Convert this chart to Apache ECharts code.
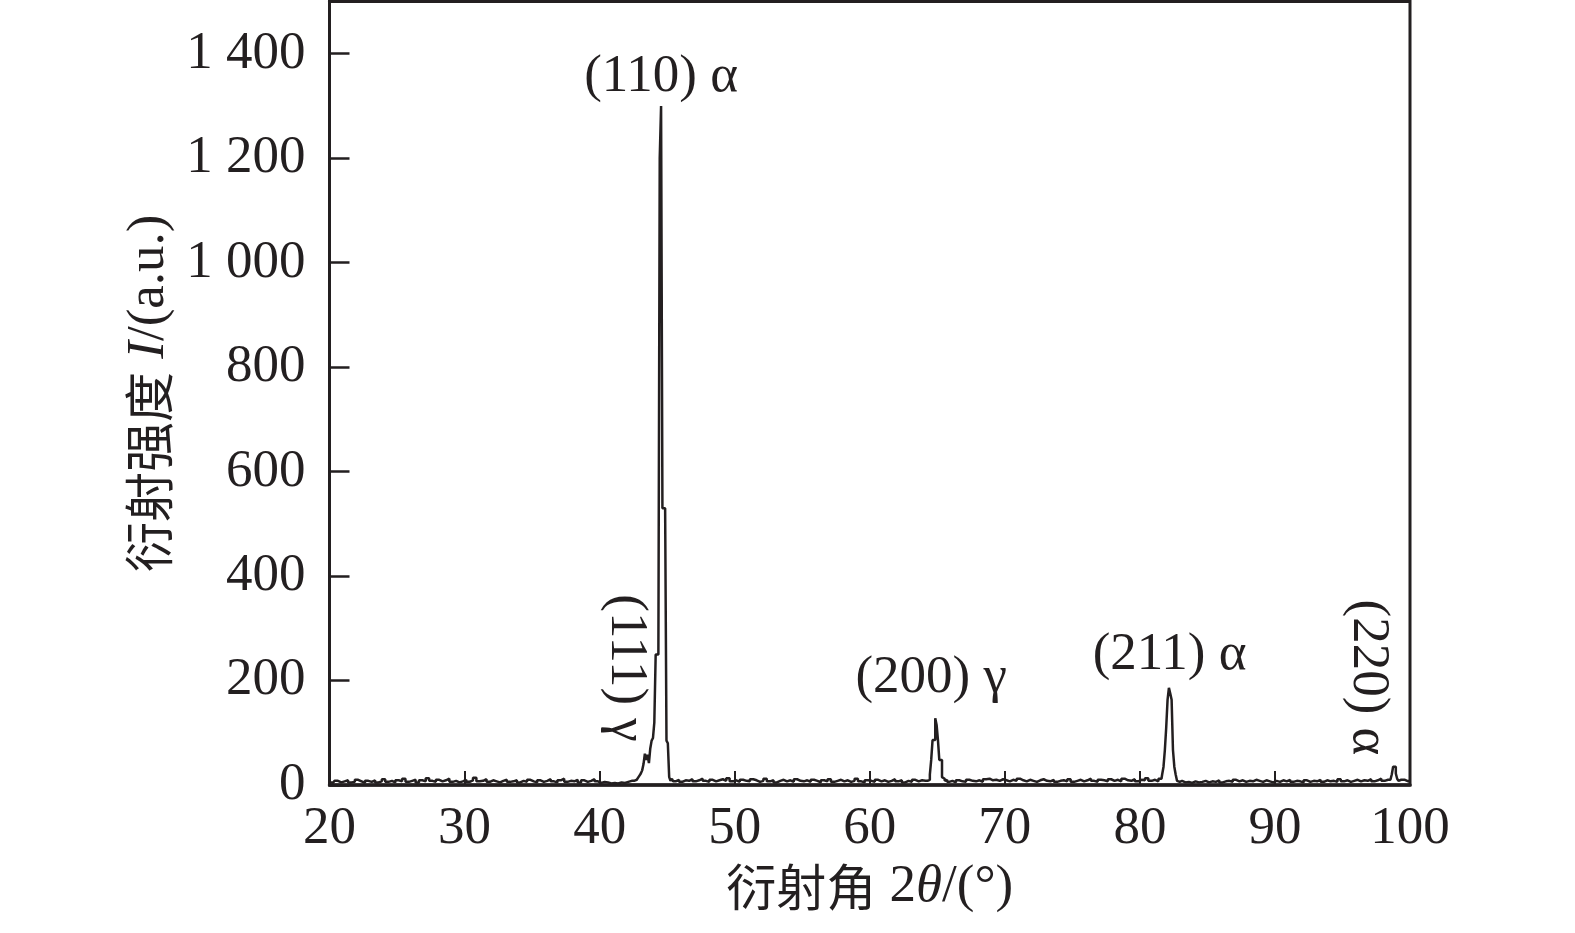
<!DOCTYPE html>
<html>
<head>
<meta charset="utf-8">
<script src="https://cdn.jsdelivr.net/npm/echarts@6/dist/echarts.min.js"></script>
<style>
  html, body { margin: 0; padding: 0; background: #fff; }
  #chart { width: 1575px; height: 933px; }
</style>
</head>
<body>
<div id="chart"></div>
<script>
// XRD 衍射谱：基线段 0.25° 步长，峰区 0.1° 步长
const xTicks = [20, 30, 40, 50, 60, 70, 80, 90, 100]
const yTicks = [0, 200, 400, 600, 800, 1000, 1200, 1400]

const base20 = [6,4,8,5,7,9,5,6,10,7,4,8,6,9,5,7,11,6,8,5,
  9,7,12,6,8,10,5,9,7,13,8,6,10,7,9,12,6,8,5,7,
  10,6,9,14,7,8,11,6,9,7,5,8,10,6,7,9,5,8,6,10,
  7,5,9,6,8,11,7,5,9,12,6,8,7,10,5,9,6,8,11,7,
  4,6,5,3,4,3,5,4,6,8,9]                       // 20.0 → 42.5
const peak110 = [8,10,12,14,18,22,28,40,60,48,58,42,70,85,90,120,
  250,250,250,1200,1300,530,530,530,85,80,15,8,12] // 42.6 → 45.4
const base45 = [7,10,6,9,8,11,7,9,12,8,6,10,7,9,11,8,13,7,9,6,
  10,8,7,11,9,6,8,12,7,9,5,8,10,7,9,6,11,8,7,9,
  6,10,8,5,9,7,11,6,8,10,7,9,6,8,12,7,5,9,8,6,
  10,7,9,6,8,11,7,9,5,8,6,10,7,9,8,6]          // 45.5 → 64.25
const peak200 = [8,10,20,48,86,86,128,115,86,48,48,15,12,8,10] // 64.3 → 65.7
const base66 = [6,8,5,9,7,6,10,8,7,9,6,11,12,9,10,8,11,9,7,10,
  8,12,9,7,10,8,6,9,11,8,7,10,6,8,9,7,11,6,8,10,
  7,9,12,8,6,10,9,7,11,8,10,7,12,9,8,11,7,10,9,13,
  8,10,7,12]                                     // 65.75 → 81.5
const peak211 = [12,20,35,67,110,163,186,175,163,67,35,20,8,6,8] // 81.6 → 83.0
const base83 = [5,6,4,7,5,6,8,5,7,6,9,5,7,8,6,10,7,9,6,8,
  7,10,8,6,9,7,5,8,6,9,7,10,6,8,7,5,9,6,8,7,
  10,6,9,7,8,6,11,7,9,6,8,10,7,9,8,11,7,9,12,8,
  10,9]                                          // 83.25 → 98.5
const peak220 = [10,20,35,35,22,12,8,10,8,10]   // 98.6 → 99.5
const base100 = [7,9]                            // 99.75 → 100

function seg(start, step, vals) {
  return vals.map((v, i) => [+(start + i * step).toFixed(2), v])
}

const data = [].concat(
  seg(20, 0.25, base20), seg(42.6, 0.1, peak110),
  seg(45.5, 0.25, base45), seg(64.3, 0.1, peak200),
  seg(65.75, 0.25, base66), seg(81.6, 0.1, peak211),
  seg(83.25, 0.25, base83), seg(98.6, 0.1, peak220),
  seg(99.75, 0.25, base100)
)

const ink = '#231f20'
const serif = 'Liberation Serif'
const cjk = 'Noto Sans CJK SC'

const peakLabels = [
  { text: '(110) α', coord: [44.55, 1355], rotate: 0 },
  { text: '(111) γ', coord: [41.95, 224], rotate: -90 },
  { text: '(200) γ', coord: [64.55, 205], rotate: 0 },
  { text: '(211) α', coord: [82.2, 249], rotate: 0 },
  { text: '(220) α', coord: [96.85, 206], rotate: -90 },
]

const rich = {
  cn: { fontFamily: cjk, fontSize: 50, color: ink },
  n: { fontFamily: serif, fontSize: 53, color: ink },
  it: { fontFamily: serif, fontSize: 53, fontStyle: 'italic', color: ink },
}

const chart = echarts.init(document.getElementById('chart'), null, { renderer: 'canvas' })
chart.setOption({
  animation: false,
  backgroundColor: '#fff',
  grid: { left: 329.5, right: 165, top: 1.5, bottom: 148, show: true,
    borderColor: ink, borderWidth: 3, backgroundColor: 'transparent' },
  xAxis: {
    type: 'value', min: 20, max: 100, interval: 10,
    name: '{cn|衍射角}{n| 2}{it|θ}{n|/(°)}',
    nameLocation: 'middle', nameGap: 62,
    nameTextStyle: { rich },
    axisLine: { lineStyle: { color: ink, width: 3.5 } },
    axisTick: { inside: true, length: 14, lineStyle: { color: ink, width: 2 } },
    axisLabel: { color: ink, fontFamily: serif, fontSize: 53, margin: 18,
      formatter: v => xTicks.includes(v) ? String(v) : '' },
    splitLine: { show: false },
  },
  yAxis: {
    type: 'value', min: 0, max: 1500, interval: 200,
    name: '{cn|衍射强度}{n| }{it|I}{n|/(a.u.)}',
    nameLocation: 'middle', nameGap: 152, nameRotate: 90,
    nameTextStyle: { rich },
    axisLine: { lineStyle: { color: ink, width: 3 } },
    axisTick: { inside: true, length: 20, lineStyle: { color: ink, width: 2.5 } },
    axisLabel: { color: ink, fontFamily: serif, fontSize: 53, margin: 24, showMaxLabel: false,
      formatter: v => yTicks.includes(v) ? String(v).replace(/(\d)(?=(\d{3})+$)/g, '$1 ') : '' },
    splitLine: { show: false },
  },
  series: [{
    type: 'line', data, step: 'middle', symbol: 'none',
    lineStyle: { color: ink, width: 2.5 },
    markPoint: {
      symbol: 'circle', symbolSize: 0, silent: true,
      label: { show: true, position: 'inside', color: ink, fontFamily: serif, fontSize: 53 },
      data: peakLabels.map(p => ({
        coord: p.coord, value: p.text,
        label: { formatter: p.text, rotate: p.rotate },
      })),
    },
  }],
})
</script>
</body>
</html>
